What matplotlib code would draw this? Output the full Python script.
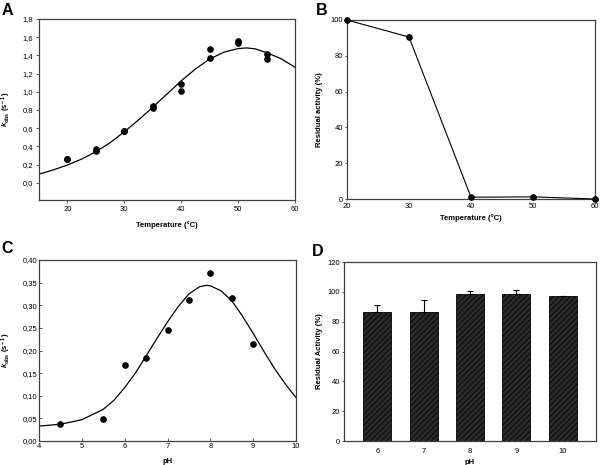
import matplotlib
matplotlib.use("Agg")
import matplotlib.pyplot as plt
from matplotlib.ticker import FuncFormatter

plt.rcParams['font.family'] = ['Liberation Sans', 'DejaVu Sans']
plt.rcParams['mathtext.fontset'] = 'custom'
plt.rcParams['mathtext.rm'] = 'Liberation Sans:bold'
plt.rcParams['mathtext.it'] = 'Liberation Sans:bold:italic'
plt.rcParams['mathtext.bf'] = 'Liberation Sans:bold'
plt.rcParams['hatch.color'] = '#5a5a5a'
plt.rcParams['hatch.linewidth'] = 0.6

# ---- Panel A data ----
tempA = [20, 20, 25, 25, 30, 30, 35, 35, 40, 40, 45, 45, 50, 50, 55, 55]
kobsA = [0.26, 0.26, 0.37, 0.35, 0.57, 0.57, 0.84, 0.82, 1.08, 1.01, 1.47, 1.37, 1.56, 1.54, 1.41, 1.36]
fitA_x = [15, 17.5, 20, 22.5, 25, 27.5, 30, 32.5, 35, 37.5, 40, 42.5, 45, 47.5, 50, 51.5, 53, 55, 57.5, 60]
fitA_y = [0.095, 0.14, 0.195, 0.26, 0.34, 0.44, 0.56, 0.69, 0.83, 0.975, 1.12, 1.25, 1.36, 1.435, 1.475, 1.482, 1.472, 1.43, 1.365, 1.27]

# ---- Panel B data ----
tempB = [20, 30, 40, 50, 60]
residB = [100, 90.5, 1.0, 1.2, 0.0]

# ---- Panel C data ----
phC = [4.5, 5.5, 6.0, 6.5, 7.0, 7.5, 8.0, 8.5, 9.0]
kobsC = [0.037, 0.049, 0.167, 0.184, 0.245, 0.311, 0.371, 0.315, 0.214]
fitC_x = [4.0, 4.5, 5.0, 5.5, 5.75, 6.0, 6.25, 6.5, 6.75, 7.0, 7.25, 7.5, 7.75, 7.9, 8.0, 8.25, 8.5, 8.75, 9.0, 9.25, 9.5, 9.75, 10.0]
fitC_y = [0.033, 0.037, 0.047, 0.070, 0.090, 0.118, 0.150, 0.188, 0.226, 0.263, 0.297, 0.325, 0.341, 0.344, 0.343, 0.332, 0.310, 0.276, 0.238, 0.198, 0.160, 0.126, 0.096]

# ---- Panel D data ----
phD = [6, 7, 8, 9, 10]
residD = [86.5, 86.8, 98.5, 98.3, 97.0]
errD = [5.0, 7.5, 2.0, 2.7, 0.5]

W, H = 600, 465
fig = plt.figure(figsize=(6, 4.65), dpi=100)

def box(l, t, r, b):
    return [l / W, 1 - b / H, (r - l) / W, (b - t) / H]

axA = fig.add_axes(box(39, 19, 295, 200))
axB = fig.add_axes(box(347, 20, 595, 199))
axC = fig.add_axes(box(39, 260, 296, 441))
axD = fig.add_axes(box(344, 262, 596, 441))

tick_fs = 5.5
lab_fs = 5.5
spine_col = '#404040'
ms = 3.8

for ax in (axA, axB, axC, axD):
    for s in ax.spines.values():
        s.set_color(spine_col)
        s.set_linewidth(0.9)
    ax.tick_params(labelsize=tick_fs, color=spine_col, width=0.6)

axA.tick_params(direction='out', length=2.5, pad=1.5)
axB.tick_params(axis='x', length=0, pad=3)
axB.tick_params(axis='y', direction='out', length=1.5, pad=1.2)
axC.tick_params(direction='in', length=2, pad=1.2)
axD.tick_params(axis='x', length=0, pad=5)
axD.tick_params(axis='y', direction='out', length=1.5, pad=1.2)

def comma(fmt):
    return FuncFormatter(lambda v, p: (fmt % v).replace('.', ','))

kobs_label = r'$\it{k}_{\rm obs}$ (s$^{\rm -1}$)'

# A
axA.plot(fitA_x, fitA_y, color='black', lw=0.9)
axA.plot(tempA, kobsA, 'o', color='black', ms=ms)
axA.set_xlim(15, 60)
axA.set_ylim(-0.19, 1.8)
axA.set_xticks([20, 30, 40, 50, 60])
axA.set_yticks([i * 0.2 for i in range(10)])
axA.yaxis.set_major_formatter(comma('%.1f'))
axA.set_xlabel('Temperature (°C)', fontsize=lab_fs, fontweight='bold')
axA.set_ylabel(kobs_label, fontsize=lab_fs, fontweight='bold')
axA.xaxis.set_label_coords(0.5, -0.114)
axA.yaxis.set_label_coords(-0.102, 0.5)

# B
axB.plot(tempB, residB, '-o', color='black', lw=0.8, ms=ms, clip_on=False, zorder=3)
axB.set_xlim(20, 60)
axB.set_ylim(0, 100)
axB.set_xticks([20, 30, 40, 50, 60])
axB.set_yticks([0, 20, 40, 60, 80, 100])
axB.set_xlabel('Temperature (°C)', fontsize=lab_fs, fontweight='bold')
axB.set_ylabel('Residual activity (%)', fontsize=lab_fs, fontweight='bold')
axB.xaxis.set_label_coords(0.5, -0.084)
axB.yaxis.set_label_coords(-0.097, 0.5)

# C
axC.plot(fitC_x, fitC_y, color='black', lw=0.9)
axC.plot(phC, kobsC, 'o', color='black', ms=ms)
axC.set_xlim(4, 10)
axC.set_ylim(0, 0.40)
axC.set_xticks([4, 5, 6, 7, 8, 9, 10])
axC.set_yticks([i * 0.05 for i in range(9)])
axC.yaxis.set_major_formatter(comma('%.2f'))
axC.set_xlabel('pH', fontsize=lab_fs, fontweight='bold')
axC.set_ylabel(kobs_label, fontsize=lab_fs, fontweight='bold')
axC.xaxis.set_label_coords(0.5, -0.094)
axC.yaxis.set_label_coords(-0.102, 0.5)

# D
axD.bar(phD, residD, width=0.6, color='#2b2b2b', edgecolor='black', lw=0.6,
        hatch='//////', zorder=2)
axD.errorbar(phD, residD, yerr=[[0] * len(errD), errD], fmt='none', ecolor='black',
             elinewidth=0.8, capsize=2.5, capthick=0.8, zorder=3)
axD.set_xlim(5.28, 10.72)
axD.set_ylim(0, 120)
axD.set_xticks(phD)
axD.set_yticks([0, 20, 40, 60, 80, 100, 120])
axD.set_xlabel('pH', fontsize=lab_fs, fontweight='bold')
axD.set_ylabel('Residual Activity (%)', fontsize=lab_fs, fontweight='bold')
axD.xaxis.set_label_coords(0.5, -0.102)
axD.yaxis.set_label_coords(-0.083, 0.5)

# panel letters
for x, y, s in [(2, 3, 'A'), (316, 3, 'B'), (1, 241, 'C'), (312, 244, 'D')]:
    fig.text(x / W, 1 - y / H, s, fontsize=11.5, fontweight='bold', va='top', ha='left')

fig.savefig('out.png', dpi=100)
